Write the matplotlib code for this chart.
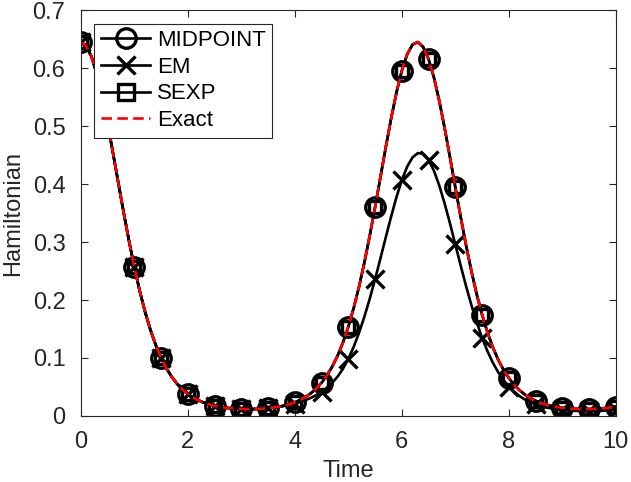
import numpy as np
import matplotlib
matplotlib.use("Agg")
import matplotlib.pyplot as plt

plt.rcParams['font.family'] = ['Liberation Sans', 'DejaVu Sans']

# Time grid (0 to 10, step 0.1)
time = np.round(np.arange(0, 10.0001, 0.1), 1)
# Exact Hamiltonian
h_exact = [0.6450,0.6386,0.6198,0.5899,0.5508,0.5049,0.4548,0.4030,0.3517,0.3026,0.2572,0.2163,0.1802,0.1490,0.1226,0.1006,0.0823,0.0675,0.0554,0.0457,0.0380,0.0318,0.0269,0.0230,0.0200,0.0176,0.0157,0.0143,0.0133,0.0125,0.0121,0.0118,0.0119,0.0121,0.0126,0.0134,0.0145,0.0160,0.0179,0.0204,0.0236,0.0276,0.0327,0.0392,0.0472,0.0573,0.0698,0.0852,0.1040,0.1268,0.1539,0.1859,0.2228,0.2645,0.3106,0.3602,0.4117,0.4634,0.5130,0.5579,0.5956,0.6238,0.6406,0.6448,0.6363,0.6155,0.5839,0.5435,0.4967,0.4462,0.3943,0.3432,0.2947,0.2500,0.2098,0.1746,0.1443,0.1186,0.0972,0.0796,0.0653,0.0536,0.0443,0.0368,0.0309,0.0262,0.0225,0.0195,0.0172,0.0155,0.0141,0.0131,0.0124,0.0120,0.0118,0.0119,0.0122,0.0127,0.0136,0.0147,0.0163]
# EM scheme
h_em = [0.6450,0.6386,0.6198,0.5899,0.5508,0.5049,0.4548,0.4030,0.3517,0.3026,0.2572,0.2163,0.1802,0.1490,0.1226,0.1006,0.0823,0.0675,0.0554,0.0457,0.0380,0.0318,0.0269,0.0230,0.0200,0.0176,0.0157,0.0143,0.0133,0.0125,0.0121,0.0118,0.0119,0.0121,0.0126,0.0134,0.0145,0.0157,0.0173,0.0191,0.0214,0.0241,0.0273,0.0312,0.0359,0.0416,0.0486,0.0572,0.0679,0.0814,0.0984,0.1192,0.1434,0.1711,0.2021,0.2358,0.2716,0.3081,0.3439,0.3774,0.4067,0.4301,0.4460,0.4535,0.4520,0.4416,0.4230,0.3974,0.3665,0.3321,0.2958,0.2594,0.2242,0.1913,0.1614,0.1349,0.1118,0.0921,0.0756,0.0619,0.0507,0.0416,0.0343,0.0284,0.0237,0.0200,0.0170,0.0147,0.0129,0.0115,0.0104,0.0096,0.0090,0.0086,0.0084,0.0083,0.0084,0.0087,0.0092,0.0099,0.0109]
# MIDPOINT and SEXP coincide with the exact curve at this resolution
h_midpoint = list(h_exact)
h_sexp = list(h_exact)

x_ticks = [0, 2, 4, 6, 8, 10]
y_ticks = [0, 0.1, 0.2, 0.3, 0.4, 0.5, 0.6, 0.7]
y_ticklabels = ['0', '0.1', '0.2', '0.3', '0.4', '0.5', '0.6', '0.7']

gray = '#262626'
fig = plt.figure(figsize=(6.31, 4.82), dpi=100)
ax = fig.add_axes([0.128, 0.137, 0.848, 0.842])
kw = dict(color='k', lw=1.9, markevery=5, mew=2.4)
ax.plot(time, h_midpoint, marker='o', ms=14, mfc='none', label='MIDPOINT', **kw)
ax.plot(time, h_em, marker='x', ms=13, label='EM', **kw)
ax.plot(time, h_sexp, marker='s', ms=9, mfc='none', label='SEXP', **kw)
ax.plot(time, h_exact, color='red', ls=(0, (4, 2)), lw=1.9, label='Exact')
ax.set_xlim(0, 10); ax.set_ylim(0, 0.7)
ax.set_xticks(x_ticks)
ax.set_yticks(y_ticks)
ax.set_yticklabels(y_ticklabels)
ax.tick_params(direction='in', length=5, width=0.8, colors=gray, labelsize=17,
               top=True, right=True)
ax.tick_params(axis='x', pad=11)
ax.tick_params(axis='y', pad=11)
for sp in ax.spines.values():
    sp.set_color(gray); sp.set_linewidth(0.8)
ax.set_xlabel('Time', fontsize=17, color=gray, labelpad=5)
ax.set_ylabel('Hamiltonian', fontsize=17, color=gray, labelpad=6)
leg = ax.legend(loc='upper left', bbox_to_anchor=(0.0256, 0.967), borderaxespad=0,
                fontsize=16, handlelength=2.2, handletextpad=0.3, labelspacing=0.25,
                borderpad=0.3, fancybox=False, framealpha=1, edgecolor=gray)
leg.get_frame().set_linewidth(0.8)
leg.legend_handles[2].set_markersize(12)
fig.savefig('out.png')
